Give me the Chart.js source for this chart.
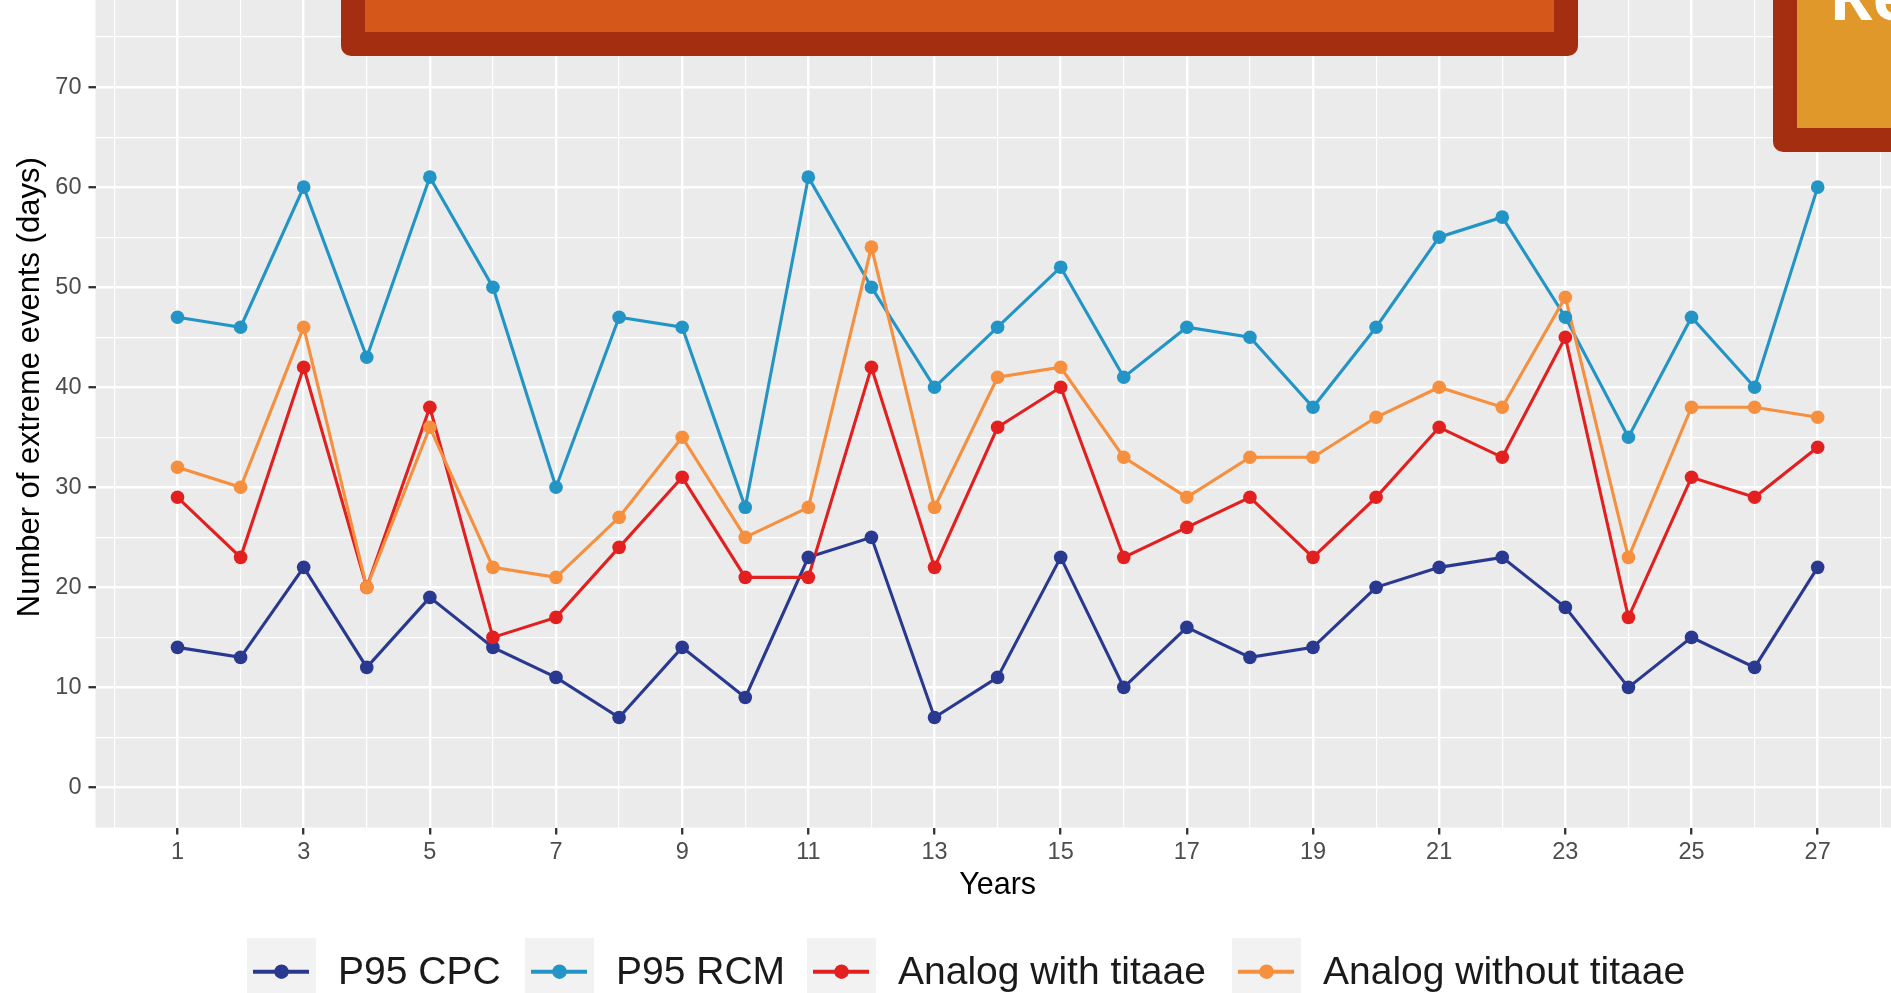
<!DOCTYPE html>
<html>
<head>
<meta charset="utf-8">
<script src="https://cdn.jsdelivr.net/npm/chart.js@4.4.1/dist/chart.umd.min.js"></script>
<style>
  html, body { margin: 0; padding: 0; background: #ffffff; }
  body { position: relative; width: 1891px; height: 993px; overflow: hidden;
         font-family: "Liberation Sans", Arial, sans-serif; }
  #wrap { position: absolute; left: 0; top: -93px; width: 1910px; height: 1086px; }
  .banner { position: absolute; left: 341px; top: -40px; width: 1237px; height: 96px;
            background: #a42f10; border-radius: 0 0 10px 10px; }
  .banner .in { position: absolute; left: 24px; right: 24px; top: 0; bottom: 24px; background: #d5581a; }
  .side { position: absolute; left: 1773px; top: -40px; width: 200px; height: 192px;
          background: #a42f10; border-radius: 0 0 0 10px; }
  .side .in { position: absolute; left: 24px; right: 0; top: 0; bottom: 24px; background: #e0982a; overflow: hidden; }
  .side .in span { position: absolute; left: 32px; top: 34px; line-height: 0; color: #ffffff;
                   font-family: "Open Sans", sans-serif; font-weight: 700; font-size: 66px; }
  .key { position: absolute; top: 938px; width: 69px; height: 70px; background: #f2f2f2; }
  .key svg { display: block; }
  .lab { position: absolute; top: 951px; font-size: 39px; line-height: 39px; color: #1a1a1a; white-space: nowrap; }
</style>
</head>
<body>
<div id="wrap"><canvas id="c" width="1910" height="1086"></canvas></div>
<div class="banner"><div class="in"></div></div>
<div class="side"><div class="in"><span>Re</span></div></div>
<div id="legend"></div>
<script>
// Years on the horizontal axis
const years = [1,2,3,4,5,6,7,8,9,10,11,12,13,14,15,16,17,18,19,20,21,22,23,24,25,26,27];

// Yearly counts of extreme events (days)
const p95Cpc = [14,13,22,12,19,14,11,7,14,9,23,25,7,11,23,10,16,13,14,20,22,23,18,10,15,12,22];
const p95Rcm = [47,46,60,43,61,50,30,47,46,28,61,50,40,46,52,41,46,45,38,46,55,57,47,35,47,40,60];
const analogWith = [29,23,42,20,38,15,17,24,31,21,21,42,22,36,40,23,26,29,23,29,36,33,45,17,31,29,34];
const analogWithout = [32,30,46,20,36,22,21,27,35,25,28,54,28,41,42,33,29,33,33,37,40,38,49,23,38,38,37];

const seriesNames = ["P95 CPC", "P95 RCM", "Analog with titaae", "Analog without titaae"];
const seriesValues = [p95Cpc, p95Rcm, analogWith, analogWithout];
const seriesColors = ["#2a3990", "#2394c6", "#e2201f", "#f68f3e"];

// Tick positions (major + minor) and labelled ticks
const xTickValues = [0,1,2,3,4,5,6,7,8,9,10,11,12,13,14,15,16,17,18,19,20,21,22,23,24,25,26,27,28];
const xTickLabels = [1,3,5,7,9,11,13,15,17,19,21,23,25,27];
const yTickValues = [0,5,10,15,20,25,30,35,40,45,50,55,60,65,70,75,80];
const yTickLabels = [0,10,20,30,40,50,60,70,80];

const FONT = '"Liberation Sans", Arial, sans-serif';

function pointsOf(vals) { return years.map((yr, i) => ({ x: yr, y: vals[i] })); }

// lines first, points on top of every line
const datasets = [];
seriesNames.forEach((name, i) => {
  datasets.push({
    label: name, data: pointsOf(seriesValues[i]),
    borderColor: seriesColors[i], borderWidth: 3.1, pointRadius: 0,
    tension: 0, fill: false, order: 8 - i
  });
});
seriesNames.forEach((name, i) => {
  datasets.push({
    label: name + " points", data: pointsOf(seriesValues[i]),
    showLine: false, pointRadius: 6.8, pointHoverRadius: 6.8,
    pointBackgroundColor: seriesColors[i], pointBorderColor: seriesColors[i], pointBorderWidth: 0,
    order: 4 - i
  });
});

const panelBackground = {
  id: 'panelBackground',
  beforeDraw(chart) {
    const { ctx, chartArea: a } = chart;
    ctx.save();
    ctx.fillStyle = '#ebebeb';
    ctx.fillRect(a.left, a.top, a.right - a.left, a.bottom - a.top);
    ctx.restore();
  }
};

function gridOpts(labelled) {
  return {
    color: '#ffffff',
    lineWidth: c => (c.tick && labelled.includes(c.tick.value)) ? 2.4 : 1.2,
    drawTicks: true,
    tickLength: 7,
    tickWidth: 2.3,
    tickColor: c => (c.tick && labelled.includes(c.tick.value)) ? '#333333' : 'rgba(0,0,0,0)'
  };
}

new Chart(document.getElementById('c'), {
  type: 'line',
  data: { datasets },
  plugins: [panelBackground],
  options: {
    responsive: false,
    devicePixelRatio: 1,
    animation: false,
    layout: { padding: { top: 40, left: 0, right: 10.3, bottom: 85.5 } },
    plugins: { legend: { display: false }, tooltip: { enabled: false } },
    scales: {
      x: {
        type: 'linear', min: -0.3, max: 28.3,
        afterBuildTicks: s => { s.ticks = xTickValues.map(v => ({ value: v })); },
        afterFit: s => { s.height = 80; },
        border: { display: false },
        grid: gridOpts(xTickLabels),
        ticks: {
          autoSkip: false, maxRotation: 0, padding: 4, color: '#4d4d4d',
          font: { family: FONT, size: 23.5 },
          callback: v => xTickLabels.includes(v) ? String(v) : ''
        },
        title: { display: true, text: 'Years', color: '#000000',
                 font: { family: FONT, size: 30.5 }, padding: { top: 0, bottom: 4 } }
      },
      y: {
        type: 'linear', min: -4, max: 84,
        afterBuildTicks: s => { s.ticks = yTickValues.map(v => ({ value: v })); },
        afterFit: s => { s.width = 95.5; },
        border: { display: false },
        grid: gridOpts(yTickLabels),
        ticks: {
          autoSkip: false, padding: 7, color: '#4d4d4d',
          font: { family: FONT, size: 23.5 },
          callback: v => yTickLabels.includes(v) ? String(v) : ''
        },
        title: { display: true, text: 'Number of extreme events (days)', color: '#000000',
                 font: { family: FONT, size: 31 }, padding: { top: 12, bottom: 0 } }
      }
    }
  }
});

// Legend along the bottom
const keyLefts = [247, 525, 807, 1232];
const legend = document.getElementById('legend');
seriesNames.forEach((name, i) => {
  const key = document.createElement('div');
  key.className = 'key';
  key.style.left = keyLefts[i] + 'px';
  key.innerHTML = '<svg width="69" height="70"><line x1="6" x2="62" y1="33.7" y2="33.7" stroke="' +
    seriesColors[i] + '" stroke-width="4"/><circle cx="34.5" cy="33.7" r="7.2" fill="' + seriesColors[i] + '"/></svg>';
  legend.appendChild(key);
  const lab = document.createElement('div');
  lab.className = 'lab';
  lab.style.left = (keyLefts[i] + 91) + 'px';
  lab.textContent = name;
  legend.appendChild(lab);
});
</script>
</body>
</html>
